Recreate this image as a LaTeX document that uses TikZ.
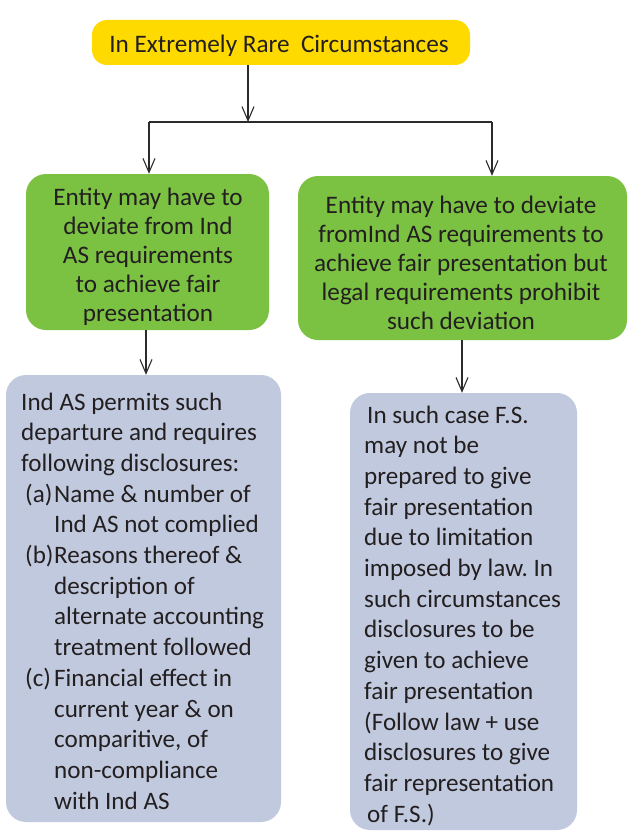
\documentclass[tikz,border=0pt]{standalone}
\usepackage{fontspec}
\setmainfont{Carlito}
\usetikzlibrary{arrows.meta}
\frenchspacing

\definecolor{rareyellow}{HTML}{FFDA00}
\definecolor{stepgreen}{HTML}{7BC243}
\definecolor{noteblue}{HTML}{C1C9DE}
\definecolor{inkdark}{HTML}{231F20}
\definecolor{linegray}{HTML}{2B2B2B}

\tikzset{
  boxbase/.style={draw=none, rectangle, inner sep=0pt},
  yellowbox/.style={boxbase, fill=rareyellow, rounded corners=15pt},
  greenbox/.style={boxbase, fill=stepgreen, rounded corners=20pt},
  bluebox/.style={boxbase, fill=noteblue, rounded corners=20pt},
  txt/.style={inner sep=0pt, text=inkdark, font=\fontsize{25.2}{29.2}\selectfont},
  bodytxt/.style={inner sep=0pt, text=inkdark, font=\fontsize{25.1}{30.7}\selectfont},
  arr/.style={draw=linegray, line width=1.1pt,
    -{Straight Barb[length=14pt, width=12pt, line width=1.1pt]}},
  link/.style={draw=linegray, line width=1.1pt}
}

\newcommand{\itemlbl}[1]{\hspace*{4pt}\makebox[29pt][l]{#1}}
\newcommand{\itemcont}{\hspace*{33pt}}

\begin{document}
\begin{tikzpicture}[x=1pt, y=-1pt]
  \useasboundingbox (0,0) rectangle (631,832);

  % boxes
  \node[yellowbox, minimum width=378pt, minimum height=45pt] (top) at (281,42.5) {};
  \node[greenbox, minimum width=243pt, minimum height=156pt] (lg) at (147.5,252) {};
  \node[greenbox, minimum width=329pt, minimum height=164pt] (rg) at (462.5,258) {};
  \node[bluebox, minimum width=275pt, minimum height=447pt] (lb) at (143.5,598.5) {};
  \node[bluebox, minimum width=227pt, minimum height=437pt] (rb) at (463.5,611.5) {};

  % texts
  \node[txt, anchor=base] (toptxt) at (279,53) {In Extremely Rare\ \ Circumstances};

  \node[txt, anchor=base] (lgtxt) at (148,205)
    {\parbox[t]{240pt}{\centering
      Entity may have to\\ deviate from Ind\\ AS requirements\\ to achieve fair\\ presentation}};

  \node[txt, anchor=base] (rgtxt) at (461,213)
    {\parbox[t]{320pt}{\centering
      Entity may have to deviate\\ fromInd AS requirements to\\ achieve fair presentation but\\
      legal requirements prohibit\\ such deviation}};

  \node[bodytxt, anchor=base west] (lbtxt) at (21,410)
    {\parbox[t]{260pt}{\raggedright
      Ind AS permits such\\
      departure and requires\\
      following disclosures:\\
      \itemlbl{(a)}Name \& number of\\
      \itemcont Ind AS not complied\\
      \itemlbl{(b)}Reasons thereof \&\\
      \itemcont description of\\
      \itemcont alternate accounting\\
      \itemcont treatment followed\\
      \itemlbl{(c)}Financial effect in\\
      \itemcont current year \& on\\
      \itemcont comparitive, of\\
      \itemcont non-compliance\\
      \itemcont with Ind AS}};

  \node[bodytxt, anchor=base west] (rbtxt) at (364,423)
    {\parbox[t]{215pt}{\raggedright
      \hspace*{3pt}In such case F.S.\\
      may not be\\
      prepared to give\\
      fair presentation\\
      due to limitation\\
      imposed by law. In\\
      such circumstances\\
      disclosures to be\\
      given to achieve\\
      fair presentation\\
      (Follow law + use\\
      disclosures to give\\
      fair representation\\
      \hspace*{3pt}of F.S.)}};

  % connectors
  \coordinate (split) at (248,122);
  \coordinate (splitl) at (149,122);
  \coordinate (splitr) at (492,122);
  \coordinate (dropl) at (146,0);
  \coordinate (dropr) at (462,0);

  \draw[arr] (top.south -| split) -- (split);
  \draw[link] (splitl) -- (splitr);
  \draw[arr] (splitl) -- (lg.north -| splitl);
  \draw[arr] (splitr) -- (rg.north -| splitr);
  \draw[arr] (lg.south -| dropl) -- (lb.north -| dropl);
  \draw[arr] (rg.south -| dropr) -- (rb.north -| dropr);
\end{tikzpicture}
\end{document}
